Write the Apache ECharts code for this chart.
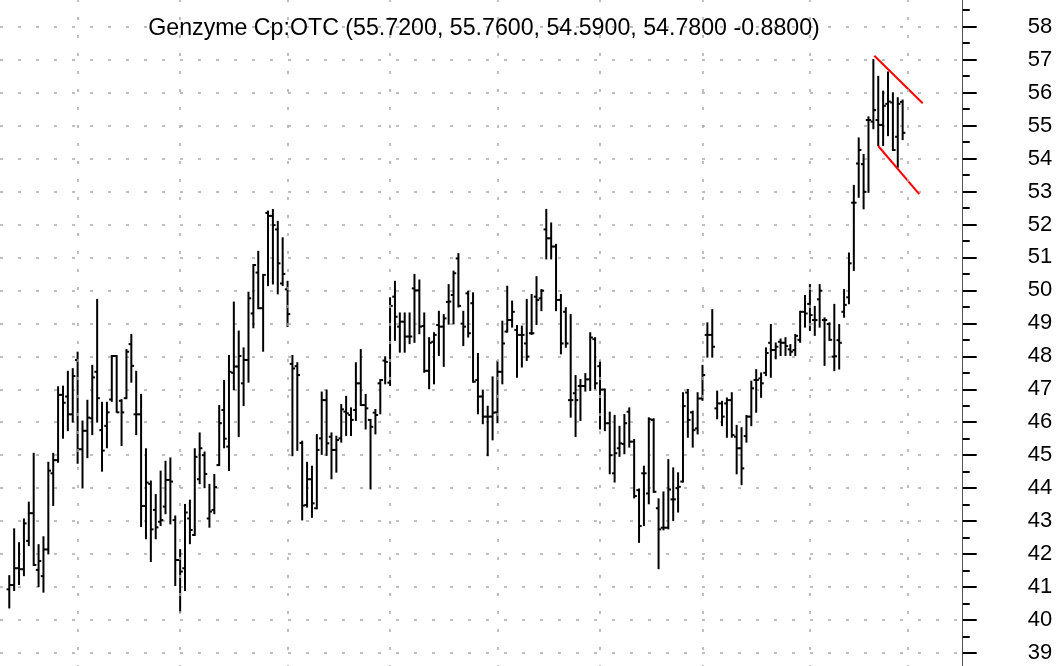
<!DOCTYPE html>
<html>
<head>
<meta charset="utf-8">
<script src="https://cdn.jsdelivr.net/npm/echarts@6/dist/echarts.min.js"></script>
<style>
  html, body { margin: 0; padding: 0; background: #fff; }
  #chart { width: 1061px; height: 666px; }
</style>
</head>
<body>
<div id="chart"></div>
<script>
// daily OHLC
const opens = [
  40.93, 41.06, 41.57, 41.54, 42.40, 43.24, 41.52, 41.33, 42.14, 44.45,
  44.85, 46.83, 46.78, 46.24, 47.89, 45.18, 45.74, 46.12, 47.53, 45.76,
  45.89, 46.69, 48.01, 46.65, 46.73, 48.37, 46.24, 46.24, 43.46, 44.13,
  43.34, 42.98, 43.44, 44.25, 43.03, 41.82, 41.57, 43.08, 42.58, 44.27,
  45.00, 43.08, 43.34, 44.70, 46.37, 45.26, 47.50, 47.69, 47.18, 47.89,
  49.30, 50.54, 49.46, 52.35, 52.26, 51.85, 50.21, 50.03, 47.77, 47.70,
  45.37, 43.49, 44.27, 43.39, 45.51, 46.67, 45.56, 45.16, 45.51, 46.32,
  46.22, 46.37, 47.18, 46.52, 46.07, 46.29, 47.18, 47.87, 47.20, 49.81,
  48.90, 49.05, 48.60, 50.06, 50.00, 48.92, 47.56, 48.44, 48.95, 48.90,
  49.65, 49.86, 50.97, 48.99, 49.91, 49.61, 47.28, 46.78, 46.17, 46.17,
  46.30, 47.53, 48.75, 49.10, 48.80, 48.65, 48.39, 48.70, 49.81, 49.76,
  51.85, 51.58, 51.33, 49.71, 49.35, 46.67, 46.88, 47.10, 47.10, 47.30,
  48.52, 47.70, 46.99, 45.97, 44.45, 45.21, 45.34, 46.32, 45.41, 43.94,
  44.45, 43.84, 46.07, 43.39, 42.80, 42.80, 43.66, 44.00, 44.20, 46.90,
  46.30, 45.81, 46.72, 48.65, 48.65, 46.42, 46.57, 46.57, 46.67, 45.56,
  45.21, 45.58, 46.17, 47.28, 47.33, 47.50, 48.41, 48.19, 48.44, 48.41,
  48.21, 48.19, 48.50, 49.35, 49.59, 49.10, 49.73, 49.10, 48.98, 47.99,
  48.49, 49.35, 49.79, 52.66, 53.85, 53.83, 55.17, 55.12, 55.17, 55.02,
  55.66, 55.70, 54.66, 55.72
];
const highs = [
  41.33, 42.75, 42.33, 43.05, 43.56, 45.04, 42.27, 42.51, 44.77, 45.04,
  47.06, 47.08, 47.53, 47.61, 48.11, 46.02, 46.65, 47.71, 49.71, 46.59,
  46.59, 48.01, 48.01, 46.67, 48.19, 48.65, 47.53, 46.83, 45.18, 44.20,
  43.79, 44.50, 44.80, 44.90, 43.14, 42.12, 43.49, 43.62, 45.18, 45.66,
  45.08, 44.10, 44.40, 46.49, 47.25, 48.01, 49.63, 48.75, 48.24, 49.93,
  50.77, 51.17, 50.47, 52.39, 52.44, 52.08, 51.58, 50.26, 48.01, 47.79,
  45.41, 44.77, 44.65, 45.61, 46.90, 46.96, 45.66, 45.56, 46.52, 46.77,
  46.42, 47.79, 48.19, 46.83, 46.07, 46.37, 47.28, 47.97, 49.76, 50.26,
  49.30, 49.30, 49.30, 50.47, 50.30, 49.30, 48.55, 48.70, 49.35, 49.25,
  50.16, 50.57, 51.10, 49.35, 49.96, 49.91, 48.07, 46.96, 46.47, 47.36,
  47.84, 49.05, 50.11, 49.66, 48.92, 48.90, 49.71, 49.86, 50.40, 50.01,
  52.44, 52.03, 51.38, 49.86, 49.46, 49.25, 47.40, 47.28, 47.46, 48.70,
  48.55, 47.84, 46.99, 46.29, 46.19, 45.86, 46.22, 46.42, 45.46, 43.96,
  44.65, 46.12, 46.09, 43.66, 43.87, 44.85, 44.60, 44.45, 46.88, 46.98,
  46.32, 46.88, 47.71, 49.00, 49.40, 46.93, 46.62, 46.72, 46.88, 45.89,
  45.82, 46.19, 47.23, 47.58, 47.48, 48.24, 48.95, 48.39, 48.51, 48.55,
  48.34, 48.65, 49.35, 49.83, 50.16, 49.50, 50.16, 49.15, 49.00, 49.56,
  48.95, 50.01, 51.12, 53.17, 54.61, 54.11, 55.25, 56.99, 56.48, 56.03,
  56.61, 55.98, 55.83, 55.76
];
const lows = [
  40.38, 40.91, 41.09, 41.36, 42.27, 41.67, 41.03, 40.86, 42.02, 43.49,
  44.80, 45.53, 45.76, 46.02, 44.77, 44.02, 44.94, 45.64, 46.02, 44.53,
  45.24, 46.65, 46.32, 45.31, 46.73, 47.23, 45.64, 42.85, 42.48, 41.79,
  42.48, 42.88, 43.24, 42.93, 41.06, 40.25, 40.91, 42.33, 42.58, 44.15,
  44.03, 42.83, 43.24, 44.70, 45.24, 44.55, 47.00, 45.58, 46.52, 47.23,
  48.88, 49.46, 48.17, 50.16, 50.21, 49.91, 50.16, 48.92, 45.00, 45.16,
  43.05, 43.44, 43.13, 43.39, 45.04, 45.01, 44.30, 44.50, 45.41, 45.61,
  45.61, 46.07, 46.52, 45.81, 43.99, 45.66, 46.27, 47.18, 47.13, 48.50,
  48.14, 48.14, 48.40, 48.44, 48.70, 47.53, 47.03, 47.18, 48.04, 47.71,
  48.99, 49.00, 49.51, 48.34, 48.60, 47.23, 46.27, 45.97, 45.00, 45.48,
  46.00, 47.18, 48.75, 48.90, 47.38, 47.69, 47.89, 48.68, 48.98, 49.40,
  50.97, 50.97, 49.40, 48.09, 48.29, 46.17, 45.58, 46.07, 46.96, 46.98,
  47.03, 45.81, 45.76, 44.45, 44.20, 44.98, 45.06, 45.26, 43.72, 42.37,
  42.88, 43.54, 43.89, 41.57, 42.75, 42.78, 43.03, 43.29, 44.20, 45.56,
  45.26, 45.66, 46.68, 47.99, 47.99, 46.12, 45.91, 45.56, 45.56, 44.45,
  44.12, 45.41, 45.91, 46.32, 46.77, 47.43, 47.38, 47.94, 48.04, 48.04,
  48.04, 48.04, 48.44, 48.90, 48.80, 48.65, 48.90, 47.74, 48.50, 47.58,
  47.63, 49.20, 49.61, 50.62, 52.84, 52.49, 52.99, 54.92, 54.41, 54.41,
  54.71, 54.26, 53.75, 54.59
];
const closes = [
  41.06, 41.57, 41.54, 42.93, 43.24, 41.67, 41.79, 42.14, 44.53, 44.85,
  46.83, 46.59, 46.24, 47.40, 45.18, 45.74, 46.14, 47.36, 46.73, 45.14,
  46.30, 48.01, 46.30, 46.30, 48.14, 47.71, 46.24, 43.46, 44.17, 42.75,
  42.81, 43.03, 44.25, 44.20, 41.82, 41.47, 43.26, 42.73, 44.95, 45.21,
  44.43, 43.29, 44.03, 45.97, 45.50, 47.53, 47.69, 48.01, 47.89, 49.76,
  50.77, 49.46, 50.47, 52.26, 51.98, 50.82, 50.50, 49.28, 47.63, 47.43,
  43.47, 44.27, 43.54, 45.16, 46.67, 45.36, 45.16, 45.46, 46.39, 46.27,
  46.07, 47.18, 46.52, 46.42, 45.86, 46.22, 47.28, 47.83, 49.53, 49.20,
  49.05, 48.60, 48.60, 50.00, 48.90, 47.56, 48.41, 48.65, 48.90, 49.15,
  49.66, 50.52, 49.53, 48.90, 48.70, 47.23, 46.78, 46.17, 46.17, 46.29,
  47.53, 48.39, 49.10, 49.35, 48.65, 48.65, 47.99, 48.70, 49.71, 49.99,
  51.58, 51.33, 49.71, 48.39, 48.39, 46.67, 46.67, 47.10, 47.30, 48.57,
  47.18, 46.99, 45.97, 45.00, 45.06, 45.36, 45.97, 45.41, 43.76, 42.85,
  44.45, 46.09, 43.89, 42.75, 42.80, 43.96, 43.66, 44.04, 46.49, 46.07,
  45.76, 46.72, 47.43, 48.65, 48.29, 46.57, 46.17, 46.67, 45.61, 45.21,
  44.60, 46.17, 47.03, 47.28, 47.18, 48.10, 48.19, 48.29, 48.41, 48.31,
  48.14, 48.62, 49.35, 49.30, 49.25, 49.10, 49.99, 49.10, 48.50, 48.00,
  48.41, 49.56, 50.82, 52.66, 54.26, 52.99, 55.17, 55.47, 55.02, 55.60,
  55.73, 54.26, 55.66, 54.78
];
// bar index of the first trading day of each month
const monthStarts = [14, 35, 57, 78, 100, 121, 142, 164, 184];
// flag pattern drawn over the last bars: [bar index, price]
const flagUpper = [[177.2, 57.12], [187.1, 55.68]];
const flagLower = [[178.0, 54.38], [186.4, 52.92]];
const headline = 'Genzyme Cp:OTC (55.7200, 55.7600, 54.5900, 54.7800 -0.8800)';

const bars = opens.map((o, i) => [i, o, highs[i], lows[i], closes[i]]);

function renderBar(params, api) {
  const x = api.value(0);
  const hi = api.coord([x, api.value(2)]);
  const lo = api.coord([x, api.value(3)]);
  const op = api.coord([x, api.value(1)]);
  const cl = api.coord([x, api.value(4)]);
  const tick = api.size([1, 0])[0] * 0.55;
  const style = { stroke: '#000', lineWidth: 2 };
  return {
    type: 'group',
    children: [
      { type: 'line', shape: { x1: hi[0], y1: hi[1] - 1, x2: lo[0], y2: lo[1] + 1 }, style },
      { type: 'line', shape: { x1: op[0] - tick, y1: op[1], x2: op[0], y2: op[1] }, style },
      { type: 'line', shape: { x1: cl[0], y1: cl[1], x2: cl[0] + tick, y2: cl[1] }, style }
    ]
  };
}

const dotted = { color: '#aaa', width: 1.5, type: [3, 15] };

const chart = echarts.init(document.getElementById('chart'));
chart.setOption({
  animation: false,
  backgroundColor: '#fff',
  title: {
    text: headline,
    left: 479,
    top: 12,
    textAlign: 'center',
    textStyle: { fontFamily: 'Liberation Sans, Arial, sans-serif', fontSize: 23.2, fontWeight: 'normal', color: '#000' }
  },
  grid: { left: 0, right: 98.3, top: -6.26, bottom: -19.9, outerBoundsMode: 'none', containLabel: false },
  xAxis: {
    type: 'value',
    min: -1.9,
    max: 195.3,
    axisLine: { show: false },
    axisTick: { show: false },
    axisLabel: { show: false },
    splitLine: { show: false }
  },
  yAxis: {
    type: 'value',
    position: 'right',
    min: 38,
    max: 59,
    interval: 1,
    axisLine: { show: true, onZero: false, lineStyle: { color: '#555', width: 1 } },
    axisTick: { show: true, length: 14, lineStyle: { color: '#000', width: 2 } },
    minorTick: { show: true, splitNumber: 2, length: 7, lineStyle: { color: '#000', width: 2 } },
    axisLabel: {
      margin: 65,
      fontSize: 22,
      color: '#000',
      fontFamily: 'Liberation Sans, Arial, sans-serif',
      showMaxLabel: false,
      showMinLabel: false
    },
    splitLine: { show: true, lineStyle: dotted }
  },
  series: [
    {
      type: 'custom',
      renderItem: renderBar,
      data: bars,
      encode: { x: 0, y: [1, 2, 3, 4] },
      silent: true,
      markLine: {
        silent: true,
        symbol: 'none',
        label: { show: false },
        lineStyle: dotted,
        data: monthStarts.map((i) => ({ xAxis: i }))
      }
    },
    {
      type: 'line',
      data: flagUpper,
      showSymbol: false,
      lineStyle: { color: '#f00', width: 2 }
    },
    {
      type: 'line',
      data: flagLower,
      showSymbol: false,
      lineStyle: { color: '#f00', width: 2 }
    }
  ]
});
</script>
</body>
</html>
